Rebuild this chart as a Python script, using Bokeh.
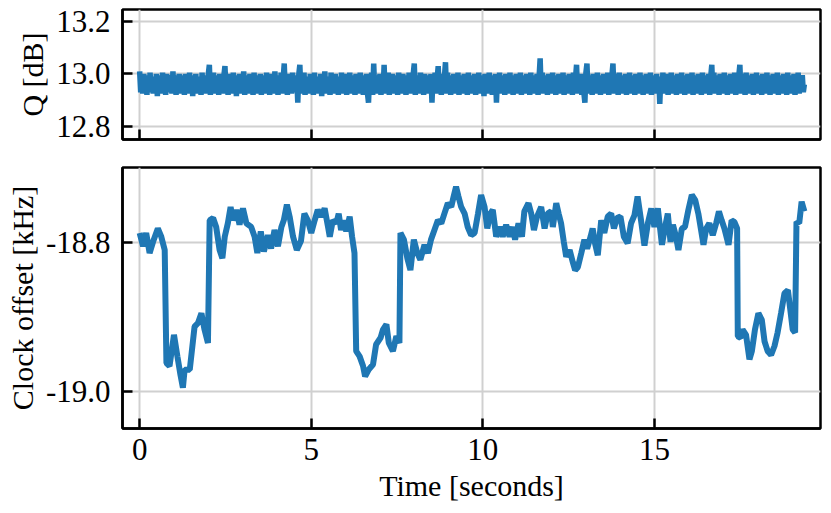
from bokeh.plotting import figure
from bokeh.layouts import column
from bokeh.models import Range1d, FixedTicker, PrintfTickFormatter
from bokeh.embed import file_html
from bokeh.resources import INLINE
import numpy as np

# ---- data ----
q_db = [
    13.01, 12.93, 12.99, 12.925, 13.0, 12.935, 12.985, 12.92, 12.995, 12.93, 13.005, 12.94, 12.99, 12.925, 12.98, 12.93, 13.0, 12.915, 12.995, 12.935, 12.985, 12.925, 13.005, 12.93, 12.99, 12.92, 13.0, 12.935, 12.995, 12.93, 12.985, 12.925, 13.01, 12.935, 12.99, 12.92, 12.995, 12.93, 13.0, 12.925,
    12.985, 12.935, 12.995, 12.92, 13.0, 12.93, 12.99, 12.925, 13.005, 12.935, 12.985, 12.915, 12.995, 12.93, 13.0, 12.925, 12.99, 12.935, 12.985, 12.92, 13.005, 12.93, 12.995, 12.925, 12.99, 12.935, 13.0, 13.035, 12.92, 12.99, 12.93, 13.005, 12.925, 12.985, 12.935, 12.995, 12.92, 13.0, 12.93, 12.99,
    12.925, 12.995, 13.03, 12.935, 12.985, 12.92, 13.0, 12.93, 12.99, 12.925, 13.005, 12.935, 12.985, 12.915, 12.995, 12.93, 13.0, 12.925, 12.99, 12.935, 13.01, 12.92, 12.985, 12.93, 12.995, 12.925, 13.0, 12.935, 12.99, 12.92, 13.005, 12.93, 12.985, 12.925, 12.995, 12.935, 13.0, 12.92, 12.99, 12.93,
    12.995, 12.925, 13.005, 12.935, 12.99, 12.92, 13.0, 12.93, 12.985, 12.925, 13.01, 12.935, 12.995, 12.92, 12.99, 12.93, 13.005, 12.925, 12.985, 13.04, 12.93, 12.995, 12.92, 13.0, 12.935, 12.99, 12.925, 13.005, 12.93, 12.985, 12.935, 12.995, 12.89, 13.0, 13.035, 12.925, 12.99, 12.93, 13.005, 12.92,
    12.99, 12.93, 12.985, 12.925, 13.0, 12.935, 12.995, 12.92, 13.005, 12.93, 12.99, 12.925, 12.985, 12.935, 13.0, 12.915, 12.995, 12.93, 13.01, 12.925, 12.99, 12.935, 12.985, 12.92, 13.005, 12.93, 12.995, 12.925, 13.0, 12.935, 12.99, 12.92, 12.985, 12.93, 13.005, 12.925, 12.995, 12.935, 13.0, 12.92,
    12.99, 12.93, 13.005, 12.925, 12.985, 12.935, 12.995, 12.92, 13.0, 12.93, 12.99, 12.925, 13.005, 12.935, 12.985, 12.92, 12.995, 12.93, 13.0, 12.925, 12.89, 12.99, 12.935, 13.005, 12.92, 13.04, 12.93, 12.995, 12.925, 12.985, 12.935, 13.0, 12.92, 12.99, 12.93, 13.035, 12.925, 12.995, 12.935, 13.005,
    12.92, 12.985, 12.93, 13.0, 12.925, 12.995, 12.935, 12.99, 12.92, 13.005, 12.93, 12.985, 12.925, 13.0, 12.935, 12.995, 12.92, 12.99, 12.93, 13.005, 12.925, 12.985, 12.935, 13.0, 13.04, 12.92, 12.995, 12.93, 12.99, 12.925, 13.005, 12.935, 12.985, 12.92, 13.0, 12.93, 12.995, 12.925, 12.99, 12.935,
    13.0, 12.89, 12.99, 12.93, 13.005, 12.925, 12.985, 13.03, 12.935, 12.995, 12.92, 13.0, 12.93, 12.99, 13.045, 12.925, 13.005, 12.935, 12.985, 12.92, 12.995, 12.93, 13.0, 12.925, 12.99, 12.935, 13.005, 12.92, 12.985, 12.93, 12.995, 12.925, 13.0, 12.935, 12.99, 12.92, 13.005, 12.93, 12.985, 12.925,
    12.995, 12.935, 13.0, 12.92, 12.99, 12.93, 13.005, 12.925, 12.985, 12.935, 12.995, 12.915, 13.0, 12.93, 12.99, 12.925, 13.005, 12.935, 12.985, 12.92, 12.995, 12.93, 13.0, 12.89, 12.99, 12.935, 13.005, 12.925, 12.985, 12.93, 12.995, 12.92, 13.0, 12.935, 12.99, 12.925, 13.005, 12.93, 12.985, 12.92,
    12.995, 12.93, 13.0, 12.925, 12.99, 12.935, 13.005, 12.92, 12.985, 12.93, 12.995, 12.925, 13.0, 12.935, 12.99, 12.92, 13.005, 12.93, 12.985, 12.925, 12.995, 12.935, 13.0, 12.92, 12.99, 13.06, 12.93, 13.005, 12.925, 12.985, 12.935, 12.995, 12.92, 13.0, 12.93, 12.99, 12.925, 13.005, 12.935, 12.985,
    12.92, 12.995, 12.93, 13.0, 12.925, 12.99, 12.935, 13.005, 12.92, 12.985, 12.93, 12.995, 12.925, 13.0, 12.935, 12.99, 12.92, 13.005, 12.93, 12.985, 13.035, 12.925, 12.995, 12.935, 13.0, 12.92, 12.99, 12.93, 12.89, 13.005, 13.04, 12.925, 12.985, 12.935, 12.995, 12.92, 13.0, 12.93, 12.99, 12.925,
    13.005, 12.935, 12.985, 12.92, 12.995, 12.93, 13.0, 12.925, 12.99, 12.935, 13.005, 12.92, 12.985, 12.93, 12.995, 13.04, 12.925, 13.0, 12.935, 12.99, 12.92, 13.005, 12.93, 12.985, 12.925, 12.995, 12.935, 13.0, 12.92, 12.99, 12.93, 13.005, 12.925, 12.985, 12.935, 12.995, 12.92, 13.0, 12.93, 12.99,
    12.925, 13.005, 12.935, 12.985, 12.92, 12.995, 12.93, 13.0, 12.925, 12.99, 12.935, 13.005, 12.92, 12.985, 12.93, 12.995, 12.925, 13.0, 12.935, 12.99, 12.885, 12.985, 12.93, 13.005, 12.925, 12.995, 12.935, 13.0, 12.92, 12.99, 12.93, 13.005, 12.925, 12.985, 12.935, 12.995, 12.92, 13.0, 12.93, 12.99,
    12.925, 13.005, 12.935, 12.985, 12.92, 12.995, 12.93, 13.0, 12.925, 12.99, 12.935, 13.005, 12.92, 12.985, 12.93, 12.995, 12.925, 13.0, 12.935, 12.99, 12.92, 13.005, 12.93, 12.985, 12.925, 12.995, 12.935, 13.0, 12.92, 12.99, 13.035, 12.93, 13.005, 12.925, 12.985, 12.935, 12.995, 12.92, 13.0, 12.93,
    12.99, 12.925, 13.005, 12.935, 12.985, 12.92, 12.995, 12.93, 13.0, 12.925, 12.99, 12.935, 13.005, 12.92, 12.985, 12.93, 12.995, 13.035, 12.925, 13.0, 12.935, 12.99, 12.92, 13.005, 12.93, 12.985, 12.925, 12.995, 12.935, 13.0, 12.92, 12.99, 12.93, 13.005, 12.925, 12.985, 12.935, 12.995, 12.92, 13.0,
    12.93, 12.99, 12.925, 13.005, 12.935, 12.985, 12.92, 12.995, 12.93, 13.0, 12.925, 12.99, 12.935, 13.005, 12.92, 12.985, 12.93, 12.995, 12.925, 13.0, 12.935, 12.99, 12.92, 13.005, 12.93, 12.985, 12.925, 12.995, 12.935, 13.0, 12.92, 12.99, 12.93, 13.005, 12.925, 12.985, 12.935, 12.995, 12.93, 12.96,
]
q_t_end = 19.37

clock_t = [
    0.0, 0.1, 0.19, 0.29, 0.39, 0.53, 0.63, 0.73, 0.78, 0.87, 1.0, 1.1, 1.19, 1.26, 1.31, 1.46, 1.6, 1.7, 1.8, 1.89,
    1.99, 2.04, 2.14, 2.23, 2.33, 2.41, 2.48, 2.57, 2.65, 2.72, 2.82, 2.91, 3.01, 3.11, 3.25, 3.35, 3.43, 3.53, 3.62, 3.74,
    3.83, 3.93, 4.03, 4.13, 4.2, 4.29, 4.37, 4.47, 4.58, 4.7, 4.8, 4.9, 5.0, 5.1, 5.19, 5.29, 5.39, 5.49, 5.54, 5.63,
    5.73, 5.8, 5.87, 5.95, 6.02, 6.12, 6.19, 6.26, 6.31, 6.41, 6.51, 6.57, 6.67, 6.8, 6.89, 7.02, 7.09, 7.19, 7.26, 7.38,
    7.48, 7.57, 7.6, 7.7, 7.8, 7.89, 7.99, 8.09, 8.18, 8.3, 8.4, 8.49, 8.59, 8.69, 8.79, 8.88, 8.98, 9.08, 9.15, 9.22,
    9.29, 9.37, 9.47, 9.56, 9.66, 9.76, 9.86, 9.95, 10.05, 10.13, 10.22, 10.29, 10.39, 10.49, 10.58, 10.68, 10.78, 10.87, 10.94, 11.04,
    11.14, 11.21, 11.33, 11.41, 11.49, 11.58, 11.7, 11.8, 11.89, 11.99, 12.04, 12.14, 12.21, 12.28, 12.36, 12.43, 12.53, 12.62, 12.69, 12.77,
    12.87, 12.96, 13.04, 13.14, 13.2, 13.27, 13.35, 13.45, 13.54, 13.64, 13.74, 13.82, 13.91, 14.01, 14.11, 14.22, 14.32, 14.42, 14.51, 14.61,
    14.71, 14.81, 14.91, 15.0, 15.1, 15.22, 15.31, 15.39, 15.47, 15.54, 15.63, 15.7, 15.8, 15.89, 15.99, 16.09, 16.19, 16.28, 16.36, 16.43,
    16.51, 16.6, 16.7, 16.8, 16.88, 16.96, 17.04, 17.16, 17.25, 17.33, 17.41, 17.43, 17.51, 17.57, 17.67, 17.77, 17.84, 17.93, 18.03, 18.13,
    18.21, 18.3, 18.4, 18.5, 18.59, 18.69, 18.79, 18.89, 18.96, 19.03, 19.1, 19.14, 19.22, 19.29, 19.37,
]
clock_khz = [
    -18.787, -18.805, -18.787, -18.814, -18.799, -18.781, -18.792, -18.81, -18.962, -18.966, -18.924, -18.953, -18.978, -18.995, -18.971, -18.971, -18.913, -18.908, -18.895, -18.917,
    -18.935, -18.77, -18.767, -18.779, -18.81, -18.821, -18.792, -18.774, -18.752, -18.77, -18.756, -18.776, -18.754, -18.774, -18.779, -18.792, -18.814, -18.785, -18.812, -18.79,
    -18.808, -18.783, -18.805, -18.779, -18.77, -18.749, -18.765, -18.792, -18.81, -18.798, -18.761, -18.77, -18.787, -18.77, -18.756, -18.765, -18.754, -18.779, -18.792, -18.77,
    -18.774, -18.761, -18.783, -18.77, -18.785, -18.765, -18.792, -18.814, -18.946, -18.953, -18.966, -18.98, -18.971, -18.964, -18.937, -18.928, -18.917, -18.91, -18.935, -18.946,
    -18.926, -18.935, -18.787, -18.796, -18.821, -18.837, -18.796, -18.814, -18.823, -18.803, -18.814, -18.796, -18.783, -18.77, -18.774, -18.761, -18.747, -18.752, -18.738, -18.725,
    -18.738, -18.752, -18.761, -18.779, -18.79, -18.787, -18.761, -18.736, -18.752, -18.781, -18.761, -18.756, -18.792, -18.779, -18.792, -18.776, -18.792, -18.779, -18.796, -18.774,
    -18.792, -18.758, -18.747, -18.761, -18.783, -18.765, -18.752, -18.781, -18.761, -18.758, -18.779, -18.747, -18.761, -18.774, -18.799, -18.819, -18.81, -18.826, -18.837, -18.833,
    -18.814, -18.796, -18.808, -18.792, -18.781, -18.801, -18.817, -18.77, -18.787, -18.765, -18.761, -18.781, -18.767, -18.765, -18.792, -18.801, -18.774, -18.763, -18.738, -18.77,
    -18.804, -18.774, -18.754, -18.779, -18.754, -18.803, -18.779, -18.761, -18.799, -18.776, -18.792, -18.81, -18.781, -18.779, -18.756, -18.736, -18.743, -18.761, -18.783, -18.803,
    -18.781, -18.774, -18.79, -18.774, -18.758, -18.77, -18.781, -18.803, -18.77, -18.772, -18.781, -18.926, -18.928, -18.917, -18.924, -18.957, -18.946, -18.917, -18.895, -18.904,
    -18.933, -18.946, -18.951, -18.939, -18.921, -18.895, -18.868, -18.864, -18.89, -18.917, -18.921, -18.772, -18.774, -18.745, -18.758,
]

x_ticks = [0, 5, 10, 15]
q_ticks = [12.8, 13.0, 13.2]
clock_ticks = [-19.0, -18.8]

FONT = "Liberation Serif"
LINE = "#1f77b4"
GRID = "#d0d0d0"

q_t = np.linspace(0.0, q_t_end, len(q_db))


def style(p, yticks):
    p.outline_line_color = "black"
    p.outline_line_width = 2.5
    p.xgrid.grid_line_color = GRID
    p.ygrid.grid_line_color = GRID
    p.xgrid.grid_line_width = 2
    p.ygrid.grid_line_width = 2
    for ax in (p.xaxis[0], p.yaxis[0]):
        ax.axis_line_color = "black"
        ax.axis_line_width = 2.5
        ax.major_tick_in = 10
        ax.major_tick_out = 0
        ax.major_tick_line_width = 2.5
        ax.major_tick_line_color = "black"
        ax.minor_tick_line_color = None
        ax.major_label_text_font = FONT
        ax.major_label_text_font_size = "31px"
        ax.major_label_text_color = "black"
        ax.axis_label_text_font = FONT
        ax.axis_label_text_font_size = "30px"
        ax.axis_label_text_font_style = "normal"
        ax.axis_label_text_color = "black"
    p.xaxis.ticker = FixedTicker(ticks=x_ticks)
    p.yaxis.ticker = FixedTicker(ticks=yticks)
    p.yaxis.formatter = PrintfTickFormatter(format="%.1f")
    p.yaxis.major_label_standoff = 12
    p.yaxis.axis_label_standoff = 4
    p.background_fill_color = "white"
    p.border_fill_color = "white"


p1 = figure(frame_width=698, frame_height=130,
            x_range=Range1d(-0.5, 19.84), y_range=Range1d(12.749, 13.247),
            output_backend="svg", toolbar_location=None,
            min_border_left=122, min_border_right=6, min_border_top=9, min_border_bottom=14)
style(p1, q_ticks)
p1.yaxis.axis_label = "Q [dB]"
p1.xaxis.major_label_text_font_size = "0px"
p1.xaxis.major_label_standoff = 0
p1.line(q_t, q_db, line_color=LINE, line_width=5.5)

p2 = figure(frame_width=698, frame_height=261,
            x_range=p1.x_range, y_range=Range1d(-19.050, -18.699),
            output_backend="svg", toolbar_location=None,
            min_border_left=122, min_border_right=6, min_border_top=14, min_border_bottom=68)
style(p2, clock_ticks)
p2.yaxis.axis_label = "Clock offset [kHz]"
p2.xaxis.axis_label = "Time [seconds]"
p2.xaxis.major_label_standoff = 10
p2.xaxis.axis_label_standoff = 6
p2.line(clock_t, clock_khz, line_color=LINE, line_width=6)

layout = column(p1, p2, spacing=0)
open("out.html", "w").write(file_html(layout, INLINE))
